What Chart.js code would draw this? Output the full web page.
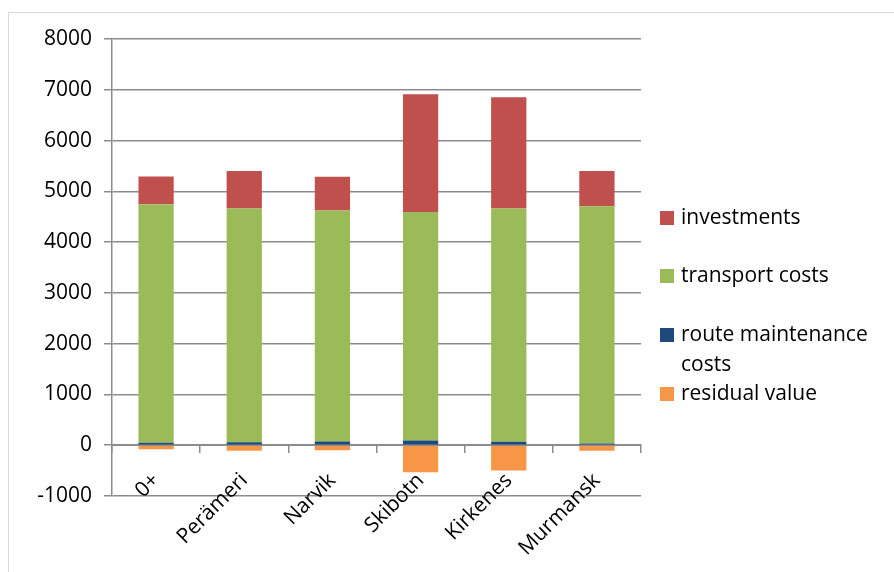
<!DOCTYPE html>
<html>
<head>
<meta charset="utf-8">
<script src="https://cdn.jsdelivr.net/npm/chart.js@4"></script>
<style>
  html, body { margin: 0; padding: 0; background: #fff; }
  #wrap { width: 894px; height: 572px; position: relative; }
</style>
</head>
<body>
<div id="wrap"><canvas id="costs-canvas"></canvas></div>
<script>
// data
const categories = ['0+', 'Perämeri', 'Narvik', 'Skibotn', 'Kirkenes', 'Murmansk'];
const routeMaintenance = [50, 60, 75, 95, 70, 35];
const transportCosts = [4696, 4600, 4547, 4500, 4591, 4671];
const investments = [545, 740, 663, 2318, 2192, 694];
const residualValue = [-80, -110, -100, -530, -500, -110];
const yTicks = [-1000, 0, 1000, 2000, 3000, 4000, 5000, 6000, 7000, 8000];

const FONT = 'Open Sans';
const GRID = '#8c8c8c';

// legend on the right, drawn by hand like the original
const legendItems = [
    { lines: ['investments'], color: '#c0504d', y: 218 },
    { lines: ['transport costs'], color: '#9bbb59', y: 276 },
    { lines: ['route maintenance', 'costs'], color: '#1f497d', y: 335 },
    { lines: ['residual value'], color: '#f79646', y: 394 }
];

const frameAndLegend = {
    id: 'frameAndLegend',
    beforeDraw(chart) {
        const c = chart.ctx;
        c.save();
        c.strokeStyle = '#d9d9d9';
        c.lineWidth = 1;
        c.strokeRect(8.5, 12.5, 1000, 1000);
        c.restore();
    },
    afterDraw(chart) {
        const c = chart.ctx;
        c.save();
        c.font = '21px "' + FONT + '"';
        c.textBaseline = 'middle';
        legendItems.forEach(it => {
            c.fillStyle = it.color;
            c.fillRect(660, it.y - 7, 14, 14);
            c.fillStyle = '#000';
            it.lines.forEach((t, i) => c.fillText(t, 681, it.y + i * 30));
        });
        c.restore();
    }
};

const ctx = document.getElementById('costs-canvas').getContext('2d');

new Chart(ctx, {
    type: 'bar',
    data: {
        labels: categories,
        datasets: [
            { label: 'route maintenance costs', data: routeMaintenance, backgroundColor: '#1f497d' },
            { label: 'transport costs', data: transportCosts, backgroundColor: '#9bbb59' },
            { label: 'investments', data: investments, backgroundColor: '#c0504d' },
            { label: 'residual value', data: residualValue, backgroundColor: '#f79646' }
        ]
    },
    options: {
        responsive: true,
        maintainAspectRatio: false,
        animation: false,
        datasets: {
            bar: { categoryPercentage: 0.8, barPercentage: 0.5 }
        },
        layout: {
            padding: { left: 0, right: 253, top: 39, bottom: 76 }
        },
        plugins: {
            legend: { display: false },
            tooltip: { enabled: false }
        },
        scales: {
            x: {
                stacked: true,
                position: { y: 0 },
                z: 1,
                grid: {
                    drawOnChartArea: false,
                    drawTicks: true,
                    tickLength: 7,
                    color: GRID,
                    lineWidth: 1.5
                },
                border: { color: GRID, width: 2 },
                ticks: {
                    color: '#000',
                    font: { family: FONT, size: 21 },
                    maxRotation: 45,
                    minRotation: 45,
                    padding: 16
                },
                afterFit(scale) { scale.height = 0; }
            },
            y: {
                stacked: true,
                min: yTicks[0],
                max: yTicks[yTicks.length - 1],
                afterBuildTicks(scale) { scale.ticks = yTicks.map(v => ({ value: v })); },
                grid: {
                    color: GRID,
                    lineWidth: 1.5,
                    tickLength: 8
                },
                border: { color: GRID, width: 1.5 },
                ticks: {
                    color: '#000',
                    font: { family: FONT, size: 21 },
                    padding: 12,
                    callback: v => String(v)
                },
                afterFit(scale) { scale.width = 112; }
            }
        }
    },
    plugins: [frameAndLegend]
});
</script>
</body>
</html>
